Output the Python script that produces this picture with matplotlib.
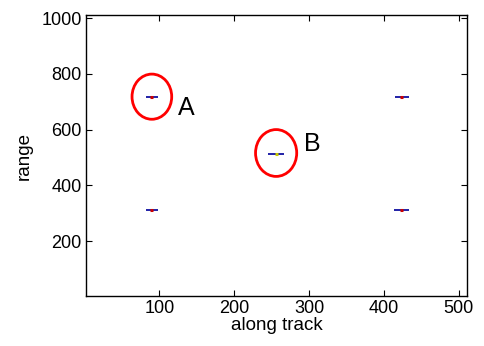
import matplotlib
matplotlib.use("Agg")
import matplotlib.pyplot as plt
from matplotlib.patches import Ellipse

plt.rcParams['font.family'] = ['Liberation Sans', 'DejaVu Sans']

# target blobs (along track, range, half length)
tx = [90, 256, 90, 424, 424]
ty = [718, 514, 311, 718, 311]
thalf = [8, 11, 8, 9, 10]
center_colors = ['#cc0000', '#c8c800', '#cc0000', '#cc0000', '#cc0000']

# circled targets
circ_x = [90, 256]
circ_y = [718, 516]
circ_w = [53, 55]
circ_h = [162, 168]
labels = ['A', 'B']
label_x = [136, 304]
label_y = [677, 548]

xticks = [100, 200, 300, 400, 500]
yticks = [200, 400, 600, 800, 1000]

fig = plt.figure(figsize=(4.84, 3.46), dpi=100)
ax = fig.add_axes([86/484, 50/346, 381/484, 281/346])

for x, y, h, c in zip(tx, ty, thalf, center_colors):
    ax.plot([x - h, x + h], [y, y], color='#1010a0', lw=1.3, solid_capstyle='butt')
    ax.plot([x - 2, x + 2], [y, y], color=c, lw=2.2, solid_capstyle='butt')

for x, y, w, h in zip(circ_x, circ_y, circ_w, circ_h):
    ax.add_patch(Ellipse((x, y), w, h, fill=False, edgecolor='#ff0000', lw=2))

for t, x, y in zip(labels, label_x, label_y):
    ax.text(x, y, t, fontsize=18, ha='center', va='center')

ax.set_xlim(2, 511)
ax.set_ylim(3, 1011)
ax.set_xticks(xticks)
ax.set_yticks(yticks)
ax.tick_params(direction='in', top=True, right=True, labelsize=13, length=4, pad=3)
ax.set_xlabel('along track', fontsize=13.5, labelpad=0)
ax.set_ylabel('range', fontsize=13.5, labelpad=6)
for s in ax.spines.values():
    s.set_linewidth(1.0)

fig.savefig('out.png', dpi=100)
